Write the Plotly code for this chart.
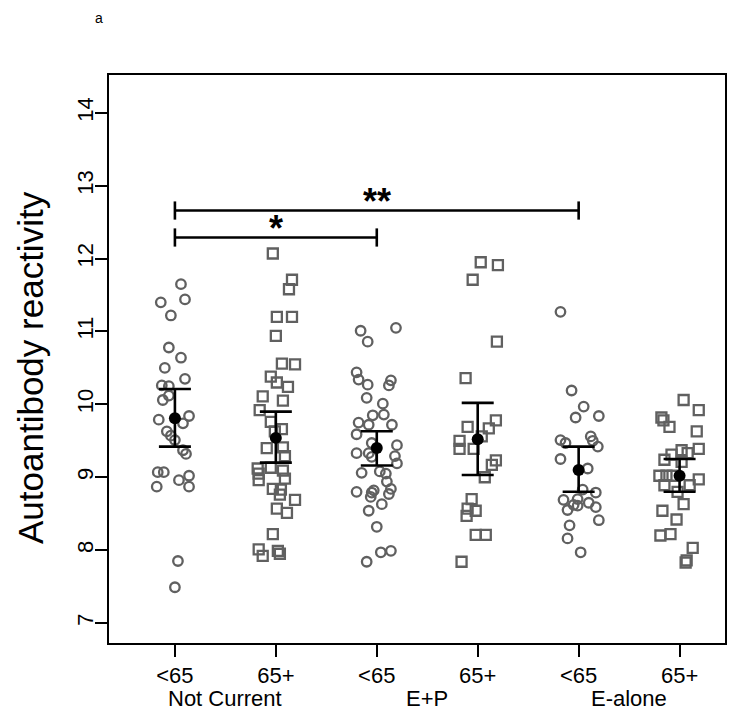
import plotly.graph_objects as go

# ---------------- data ----------------
group_positions = [1, 2, 3, 4, 5, 6]
tick_labels = ["<65", "65+", "<65", "65+", "<65", "65+"]
therapy_labels = ["Not Current", "E+P", "E-alone"]
therapy_centers = [1.5, 3.5, 5.5]

# individual values, jitter in hundredths of a category
nc_lt65 = [11.65, 11.40, 11.44, 11.22, 10.78, 10.64, 10.50, 10.35, 10.26, 10.25, 10.12, 10.06, 9.79, 9.84,
           9.74, 9.63, 9.57, 9.51, 9.37, 9.32, 9.07, 9.07, 8.96, 9.02, 8.87, 8.87, 7.85, 7.49]
nc_lt65_jit = [6, -14, 10, -4, -6, 6, -10, 10, -13, -6, -6, -12, -16, 14, 8, -8, -4, 0, 8, 11, -17, -11, 4,
               14, -18, 14, 3, 0]

nc_65p = [12.07, 11.71, 11.58, 11.20, 11.20, 10.94, 10.56, 10.55, 10.38, 10.30, 10.24, 10.11, 10.05, 9.92,
          9.76, 9.66, 9.63, 9.40, 9.41, 9.29, 9.12, 9.05, 8.96, 9.13, 9.09, 8.98, 8.84, 8.83, 8.76, 8.69,
          8.57, 8.51, 8.22, 8.01, 7.92, 7.99, 7.95]
nc_65p_jit = [-3, 16, 13, 1, 16, 0, 6, 19, -5, 1, 12, -13, 7, -16, -5, 6, -1, -9, 7, 9, -18, -17, -17, -5,
              7, 9, -3, 5, 4, 19, 1, 11, -3, -17, -13, 2, 4]

ep_lt65 = [11.01, 11.05, 10.86, 10.44, 10.34, 10.27, 10.33, 10.26, 10.09, 10.01, 9.85, 9.86, 9.75, 9.72,
           9.72, 9.59, 9.47, 9.44, 9.33, 9.33, 9.28, 9.29, 9.19, 9.06, 9.08, 9.05, 8.94, 8.84, 8.77, 8.80,
           8.79, 8.82, 8.73, 8.63, 8.54, 8.32, 7.97, 7.99, 7.84]
ep_lt65_jit = [-16, 19, -9, -20, -18, -9, 14, 12, -10, 6, -4, 7, -18, -8, 15, -20, -5, 20, -20, -8, -5, 18,
               20, -15, 3, 9, 10, 14, 12, -20, -5, -3, -6, 5, -8, 0, 4, 14, -10]

ep_65p = [11.95, 11.91, 11.71, 10.86, 10.36, 9.69, 9.78, 9.67, 9.50, 9.39, 9.39, 9.56, 9.23, 9.17, 9.00,
          8.70, 8.54, 8.57, 8.47, 8.21, 8.21, 7.84]
ep_65p_jit = [3, 20, -5, 19, -12, -10, 18, 11, -18, -18, -4, 4, 18, 14, 7, -6, -2, -10, -11, -2, 8, -16]

ea_lt65 = [11.27, 10.19, 9.97, 9.82, 9.84, 9.51, 9.47, 9.56, 9.50, 9.42, 9.25, 9.12, 8.83, 8.79, 8.69,
           8.70, 8.62, 8.65, 8.55, 8.61, 8.59, 8.41, 8.34, 8.16, 7.97]
ea_lt65_jit = [-18, -7, 5, -3, 20, -18, -13, 12, 14, 19, -18, 9, 4, 17, -15, -1, -5, 10, -11, -1, 17, 20,
               -9, -11, 2]

ea_65p = [10.06, 9.92, 9.82, 9.78, 9.69, 9.63, 9.39, 9.37, 9.33, 9.31, 9.24, 9.21, 9.02, 9.02, 9.02, 8.97,
          8.89, 8.89, 8.80, 8.63, 8.54, 8.42, 8.20, 8.22, 8.03, 7.86, 7.83]
ea_65p_jit = [4, 19, -18, -16, -10, 17, 19, 2, 8, -8, -15, 2, -20, -13, -7, 19, -15, 10, -2, 4, -17, -3,
              -19, -9, 13, 7, 6]

# group summaries
group_means = [9.81, 9.54, 9.40, 9.52, 9.10, 9.02]
group_upper = [10.21, 9.90, 9.63, 10.02, 9.42, 9.25]
group_lower = [9.42, 9.20, 9.16, 9.03, 8.80, 8.80]

# significance brackets: (from group, to group, label, height)
sig_from = [1, 1]
sig_to = [3, 5]
sig_text = ["*", "**"]
sig_height = [12.29, 12.66]

y_ticks = [7, 8, 9, 10, 11, 12, 13, 14]

# ---------------- figure ----------------
FONT = "Arial, Liberation Sans, sans-serif"
GRAY = "#606060"
W, H = 742, 702
ML, MR, MT, MB = 101, 25, 67, 67
PH = H - MT - MB
PW = W - ML - MR

groups = [nc_lt65, nc_65p, ep_lt65, ep_65p, ea_lt65, ea_65p]
jits = [nc_lt65_jit, nc_65p_jit, ep_lt65_jit, ep_65p_jit, ea_lt65_jit, ea_65p_jit]
symbols = ["circle-open", "square-open"] * 3

fig = go.Figure()
for pos, vals, jit, sym in zip(group_positions, groups, jits, symbols):
    fig.add_trace(go.Scatter(
        x=[pos + j / 100 for j in jit], y=vals, mode="markers",
        marker=dict(symbol=sym, size=9.5 if sym.startswith("circle") else 10,
                    color=GRAY, line=dict(width=2.3, color=GRAY)),
        showlegend=False, hoverinfo="y"))

fig.add_trace(go.Scatter(
    x=group_positions, y=group_means, mode="markers",
    marker=dict(symbol="circle", size=12, color="black"),
    error_y=dict(type="data", symmetric=False,
                 array=[u - m for u, m in zip(group_upper, group_means)],
                 arrayminus=[m - l for l, m in zip(group_lower, group_means)],
                 color="black", thickness=2.6, width=16),
    showlegend=False))

for a, b, txt, h in zip(sig_from, sig_to, sig_text, sig_height):
    fig.add_trace(go.Scatter(
        x=[a, b], y=[h, h], mode="lines",
        line=dict(color="black", width=2.6),
        error_y=dict(type="constant", value=0.125, color="black", thickness=2.6, width=0),
        showlegend=False, hoverinfo="skip"))
    fig.add_annotation(x=(a + b) / 2, y=h, text="<b>" + txt + "</b>", showarrow=False, yshift=9,
                       font=dict(family=FONT, size=36, color="black"), yanchor="middle")

for lab, cx in zip(therapy_labels, therapy_centers):
    fig.add_annotation(x=cx, xref="x", y=-55 / PH, yref="paper", text=lab, showarrow=False,
                       font=dict(family=FONT, size=22, color="black"), yanchor="middle")

fig.add_annotation(x=(22 - ML) / PW, xref="paper", xanchor="center", y=0.5 - 9 / PH, yref="paper",
                   text="Autoantibody reactivity", textangle=-90, showarrow=False,
                   font=dict(family=FONT, size=35, color="black"))
fig.add_annotation(x=(85 - ML) / PW, xref="paper", y=1 + MT / PH, yref="paper", yanchor="top",
                   text="a", showarrow=False, font=dict(family=FONT, size=14, color="black"))

fig.update_layout(
    width=W, height=H,
    margin=dict(l=ML, r=MR, t=MT, b=MB),
    paper_bgcolor="white", plot_bgcolor="white",
    font=dict(family=FONT, color="black"),
    xaxis=dict(range=[0.347, 6.45], tickvals=group_positions, ticktext=tick_labels,
               showgrid=False, zeroline=False, showline=True, mirror=True,
               linecolor="black", linewidth=2, ticks="outside", ticklen=12, tickwidth=2,
               tickcolor="black", tickfont=dict(size=22)),
    yaxis=dict(range=[6.725, 14.52], tickvals=y_ticks,
               showgrid=False, zeroline=False, showline=True, mirror=True,
               linecolor="black", linewidth=2, ticks="outside", ticklen=12, tickwidth=2,
               tickcolor="black", tickfont=dict(size=22), tickangle=-90, ticklabelstandoff=-7),
)

fig.write_html("out.html")
